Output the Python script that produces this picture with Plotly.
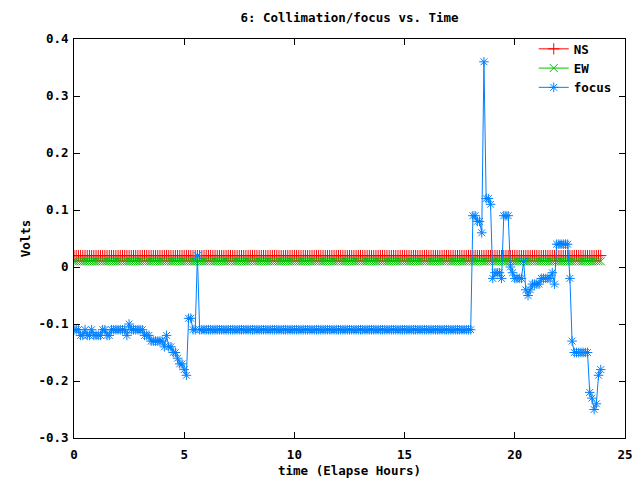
import plotly.graph_objects as go

# ---------------- data ----------------
sample_step_h = 0.1
n_samples = 240
hours = [round(i * sample_step_h, 1) for i in range(n_samples)]

ns_volts = [0.02] * n_samples
ew_volts = [0.01] * n_samples

focus_volts = [
    -0.11, -0.11, -0.11, -0.12, -0.12, -0.11, -0.12, -0.12, -0.11, -0.12,
    -0.12, -0.12, -0.12, -0.11, -0.11, -0.12, -0.12, -0.11, -0.11, -0.11,
    -0.11, -0.11, -0.11, -0.11, -0.12, -0.10, -0.11, -0.11, -0.11, -0.11,
    -0.11, -0.11, -0.12, -0.12, -0.12, -0.13, -0.13, -0.13, -0.13, -0.13,
    -0.13, -0.14, -0.12, -0.14, -0.14, -0.15, -0.15, -0.16, -0.17, -0.17,
    -0.18, -0.19, -0.09, -0.09, -0.11, -0.11, 0.02, -0.11, -0.11, -0.11,
    -0.11, -0.11, -0.11, -0.11, -0.11, -0.11, -0.11, -0.11, -0.11, -0.11,
    -0.11, -0.11, -0.11, -0.11, -0.11, -0.11, -0.11, -0.11, -0.11, -0.11,
    -0.11, -0.11, -0.11, -0.11, -0.11, -0.11, -0.11, -0.11, -0.11, -0.11,
    -0.11, -0.11, -0.11, -0.11, -0.11, -0.11, -0.11, -0.11, -0.11, -0.11,
    -0.11, -0.11, -0.11, -0.11, -0.11, -0.11, -0.11, -0.11, -0.11, -0.11,
    -0.11, -0.11, -0.11, -0.11, -0.11, -0.11, -0.11, -0.11, -0.11, -0.11,
    -0.11, -0.11, -0.11, -0.11, -0.11, -0.11, -0.11, -0.11, -0.11, -0.11,
    -0.11, -0.11, -0.11, -0.11, -0.11, -0.11, -0.11, -0.11, -0.11, -0.11,
    -0.11, -0.11, -0.11, -0.11, -0.11, -0.11, -0.11, -0.11, -0.11, -0.11,
    -0.11, -0.11, -0.11, -0.11, -0.11, -0.11, -0.11, -0.11, -0.11, -0.11,
    -0.11, -0.11, -0.11, -0.11, -0.11, -0.11, -0.11, -0.11, -0.11, -0.11,
    -0.11, -0.11, -0.11, -0.11, -0.11, -0.11, -0.11, -0.11, -0.11, -0.11,
    -0.11, 0.09, 0.09, 0.08, 0.08, 0.06, 0.36, 0.12, 0.12, 0.11,
    -0.02, -0.01, -0.01, -0.01, -0.02, 0.09, 0.09, 0.09, 0.00, -0.01,
    -0.02, -0.02, -0.02, -0.02, 0.01, -0.04, -0.05, -0.04, -0.03, -0.03,
    -0.03, -0.03, -0.02, -0.02, -0.02, -0.02, -0.02, -0.01, -0.03, 0.04,
    0.04, 0.04, 0.04, 0.04, 0.04, -0.02, -0.13, -0.15, -0.15, -0.15,
    -0.15, -0.15, -0.15, -0.15, -0.22, -0.23, -0.25, -0.24, -0.19, -0.18,
]

x_tick_vals = [0, 5, 10, 15, 20, 25]
x_tick_text = ["0", "5", "10", "15", "20", "25"]
y_tick_vals = [-0.3, -0.2, -0.1, 0, 0.1, 0.2, 0.3, 0.4]
y_tick_text = ["-0.3", "-0.2", "-0.1", "0", "0.1", "0.2", "0.3", "0.4"]

series = [
    ("NS", ns_volts, "#ff0000", "cross-thin"),
    ("EW", ew_volts, "#00c000", "x-thin"),
    ("focus", focus_volts, "#0080ff", "asterisk"),
]

# ---------------- figure ----------------
FONT = "DejaVu Sans Mono"
FS = 12.5
fig = go.Figure()
for name, vals, color, sym in series:
    fig.add_trace(go.Scatter(
        x=hours, y=vals, name=name, mode="lines+markers",
        line=dict(color=color, width=1),
        marker=dict(symbol=sym, size=8, color=color,
                    line=dict(color=color, width=1)),
    ))

axis_common = dict(
    showgrid=False, zeroline=False, showline=True, linecolor="black",
    linewidth=1, mirror="allticks", ticks="inside", ticklen=6,
    tickcolor="black", automargin=False,
    tickfont=dict(family=FONT, size=FS, color="black", weight="bold"),
)

fig.update_layout(
    width=640, height=480,
    paper_bgcolor="white", plot_bgcolor="white",
    margin=dict(l=66, r=23, t=31, b=50),
    font=dict(family=FONT, size=FS, color="black", weight="bold"),
    title=dict(text="6: Collimation/focus vs. Time", x=0.5, xref="paper",
               xanchor="center", y=0.99, yref="container", yanchor="top",
               font=dict(family=FONT, size=FS, weight="bold")),
    xaxis=dict(range=[0, 25], tickvals=x_tick_vals, ticktext=x_tick_text,
               ticklabelstandoff=5,
               title=dict(text="time (Elapse Hours)", standoff=5,
                          font=dict(family=FONT, size=FS, weight="bold")),
               **axis_common),
    yaxis=dict(range=[-0.3, 0.4], tickvals=y_tick_vals, ticktext=y_tick_text,
               ticklabelstandoff=2,
               title=dict(text="Volts", standoff=5,
                          font=dict(family=FONT, size=FS, weight="bold")),
               **axis_common),
    legend=dict(x=0.985, y=1.012, xanchor="right", yanchor="top",
                bgcolor="rgba(0,0,0,0)", borderwidth=0,
                font=dict(family=FONT, size=FS, weight="bold"),
                tracegroupgap=0, itemwidth=30),
    showlegend=True,
)

fig.write_html("out.html")
